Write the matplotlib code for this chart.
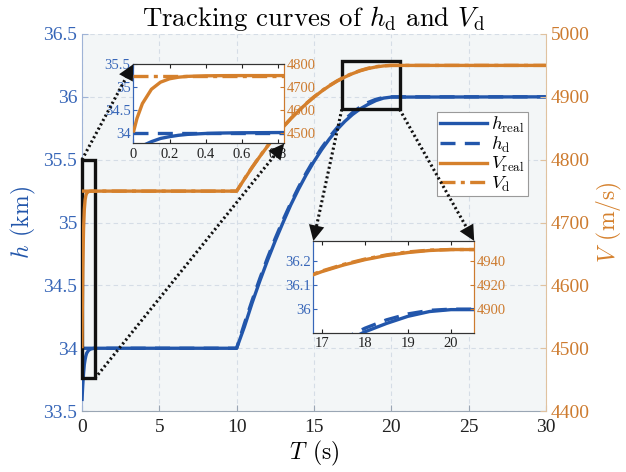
import matplotlib
matplotlib.use("Agg")
import matplotlib.pyplot as plt
from matplotlib.patches import Rectangle, ConnectionPatch
from matplotlib.lines import Line2D

# ---- simulated tracking data ----
t_real = [0, 0.02, 0.05, 0.1, 0.15, 0.2, 0.25, 0.3, 0.4, 0.5, 0.6, 0.8, 1.0,
          10, 10.5, 11, 11.5, 12, 12.5, 13, 13.5, 14, 14.5, 15, 15.5, 16,
          16.5, 17, 17.5, 18, 18.5, 19, 19.5, 20, 30]
h_real = [33.58, 33.64, 33.71, 33.80, 33.87, 33.91, 33.94, 33.96, 33.98, 33.99, 33.995, 34.0, 34.0,
          34.0, 34.17, 34.36, 34.535, 34.70, 34.855, 35.0, 35.14, 35.265, 35.38, 35.485, 35.58, 35.665,
          35.74, 35.805, 35.86, 35.905, 35.94, 35.97, 35.99, 35.998, 36.0]
v_real = [4500, 4562, 4627, 4690, 4721, 4736, 4743, 4746.5, 4749, 4749.8, 4750, 4750, 4750,
          4750, 4769, 4787.5, 4805, 4821.5, 4837, 4851.5, 4865, 4877.5, 4889, 4899.5, 4909, 4917.5,
          4925, 4931.5, 4937, 4941.5, 4945, 4947.5, 4949.2, 4950, 4950]

t_ref = [0, 10, 10.5, 11, 11.5, 12, 12.5, 13, 13.5, 14, 14.5, 15, 15.5, 16,
         16.5, 17, 17.5, 18, 18.5, 19, 19.5, 20, 30]
h_ref = [34.0, 34.0, 34.195, 34.38, 34.555, 34.72, 34.875, 35.02, 35.155, 35.28, 35.395, 35.5, 35.595, 35.68,
         35.755, 35.82, 35.875, 35.92, 35.955, 35.98, 35.995, 36.0, 36.0]
v_ref = [4750, 4750, 4769.5, 4788, 4805.5, 4822, 4837.5, 4852, 4865.5, 4878, 4889.5, 4900, 4909.5, 4918,
         4925.5, 4932, 4937.5, 4942, 4945.5, 4948, 4949.5, 4950, 4950]

x_ticks = [0, 5, 10, 15, 20, 25, 30]
h_ticks = [33.5, 34, 34.5, 35, 35.5, 36, 36.5]
v_ticks = [4400, 4500, 4600, 4700, 4800, 4900, 5000]

# ---- styling ----
BLUE = "#2256ab"
ORANGE = "#d5802c"
BLUE_TXT = "#3766b8"
ORANGE_TXT = "#cd7b2f"
BG = "#f3f6f7"
GRID = "#d5dde6"

plt.rcParams["font.family"] = ["Liberation Serif", "DejaVu Serif"]
plt.rcParams["mathtext.fontset"] = "cm"

LW = 2.4
DASH = (0, (4.5, 2.8))
DASHDOT = (0, (4.5, 1.6, 1.2, 1.6))

fig = plt.figure(figsize=(6.26, 4.72), dpi=100)
ax = fig.add_axes([0.131, 0.129, 0.741, 0.799])
ax.set_facecolor(BG)
axr = ax.twinx()


def h_to_v(h):
    return 4500 + (h - 34) * 200


def draw_series(a_h, a_v):
    a_h.plot(t_real, h_real, color=BLUE, lw=LW, solid_capstyle="butt", zorder=3)
    a_h.plot(t_ref, h_ref, color=BLUE, lw=LW, linestyle=DASH, zorder=4)
    a_v.plot(t_real, v_real, color=ORANGE, lw=LW, solid_capstyle="butt", zorder=3)
    a_v.plot(t_ref, v_ref, color=ORANGE, lw=LW, linestyle=DASHDOT, zorder=4)


draw_series(ax, axr)

ax.set_xlim(0, 30)
ax.set_ylim(33.5, 36.5)
axr.set_ylim(h_to_v(33.5), h_to_v(36.5))
ax.set_xticks(x_ticks)
ax.set_yticks(h_ticks)
ax.set_yticklabels([f"{v:g}" for v in h_ticks])
axr.set_yticks(v_ticks)
ax.grid(True, linestyle=(0, (4, 3)), color=GRID, lw=0.8)
ax.set_axisbelow(True)

ax.tick_params(axis="x", direction="in", length=4, labelsize=14, colors="#222222", pad=6,
               color="#9aa6b4")
ax.tick_params(axis="y", direction="in", length=4, labelsize=14, colors=BLUE_TXT,
               color="#9fb3d6")
axr.tick_params(axis="y", direction="in", length=4, labelsize=14, colors=ORANGE_TXT,
                color="#e0c29f")

for a in (ax, axr):
    a.spines["top"].set_visible(False)
ax.spines["left"].set_color("#9fb3d6")
ax.spines["bottom"].set_color("#9aa6b4")
ax.spines["right"].set_visible(False)
axr.spines["left"].set_visible(False)
axr.spines["bottom"].set_visible(False)
axr.spines["right"].set_color("#e0c29f")

ax.set_xlabel(r"$T\;\,\mathrm{(s)}$", fontsize=17, labelpad=2)
ax.set_ylabel(r"$h\;\,\mathrm{(km)}$", fontsize=17, color=BLUE, labelpad=4)
axr.set_ylabel(r"$V\;\,\mathrm{(m/s)}$", fontsize=17, color=ORANGE, labelpad=4)
ax.set_title(r"Tracking curves of $h_\mathrm{d}$ and $V_\mathrm{d}$",
             fontsize=19.3, family="cmr10", pad=6)

# legend with handles from both y axes
handles = [
    Line2D([], [], color=BLUE, lw=LW),
    Line2D([], [], color=BLUE, lw=LW, linestyle=DASH),
    Line2D([], [], color=ORANGE, lw=LW),
    Line2D([], [], color=ORANGE, lw=LW, linestyle=DASHDOT),
]
labels = [r"$h_\mathrm{real}$", r"$h_\mathrm{d}$", r"$V_\mathrm{real}$", r"$V_\mathrm{d}$"]
leg = axr.legend(handles, labels, loc="upper right", bbox_to_anchor=(0.961, 0.793),
                 borderaxespad=0, fontsize=13.5, handlelength=2.5, handletextpad=0.25,
                 labelspacing=0.0, borderpad=0.15, fancybox=False, framealpha=1,
                 edgecolor="#9a9a9a")
leg.get_frame().set_linewidth(0.8)
leg.set_zorder(10)


def make_inset(rect, xlim, hlim, xt, ht, vt):
    ia = fig.add_axes(rect)
    ia.set_facecolor("white")
    iar = ia.twinx()
    draw_series(ia, iar)
    ia.set_xlim(*xlim)
    ia.set_ylim(*hlim)
    iar.set_ylim(h_to_v(hlim[0]), h_to_v(hlim[1]))
    ia.set_xticks(xt)
    ia.set_xticklabels([f"{v:g}" for v in xt])
    ia.set_yticks(ht)
    ia.set_yticklabels([f"{v:g}" for v in ht])
    iar.set_yticks(vt)
    ia.tick_params(axis="x", direction="in", length=3, labelsize=10.5, colors="#222222",
                   top=True, pad=3)
    ia.tick_params(axis="y", direction="in", length=3, labelsize=10.5, colors=BLUE_TXT, pad=2)
    iar.tick_params(axis="y", direction="in", length=3, labelsize=10.5, colors=ORANGE_TXT, pad=2)
    for a in (ia, iar):
        a.spines["top"].set_color("#333333")
        a.spines["bottom"].set_color("#333333")
        a.spines["left"].set_color(BLUE_TXT)
        a.spines["right"].set_color(ORANGE_TXT)
    return ia, iar


# inset around the initial transient
in1_x, in1_h = (0, 0.834), (33.76, 35.5)
ia1, iar1 = make_inset([0.213, 0.696, 0.241, 0.168], in1_x, in1_h,
                       [0, 0.2, 0.4, 0.6, 0.8], [34, 34.5, 35, 35.5],
                       [4500, 4600, 4700, 4800])

# inset around the end of the climb
in2_x, in2_h = (16.8, 20.54), (35.90, 36.286)
ia2, iar2 = make_inset([0.5005, 0.2945, 0.257, 0.195], in2_x, in2_h,
                       [17, 18, 19, 20], [36, 36.1, 36.2],
                       [4900, 4920, 4940])

# zoom boxes on the main axes
for xl, hl in ((in1_x, in1_h), (in2_x, in2_h)):
    ax.add_patch(Rectangle((xl[0], hl[0]), xl[1] - xl[0], hl[1] - hl[0],
                           fill=False, ec="#111111", lw=2.4, zorder=6, clip_on=False))

# dotted connectors ending in arrow heads at the inset corners
links = [
    ((in1_x[0], in1_h[1]), ia1, (0, 1)),
    ((in1_x[1], in1_h[0]), ia1, (1, 0)),
    ((in2_x[0], in2_h[0]), ia2, (0, 1)),
    ((in2_x[1], in2_h[0]), ia2, (1, 1)),
]
for xyA, target, xyB in links:
    # dotted shaft
    shaft = ConnectionPatch(xyA=xyA, coordsA=ax.transData, xyB=xyB, coordsB=target.transAxes,
                            arrowstyle="-", lw=2.2, linestyle=(0, (0.7, 0.9)),
                            capstyle="butt", color="#111111", shrinkA=0, shrinkB=6, zorder=20)
    fig.add_artist(shaft)
    # solid arrow head
    head = ConnectionPatch(xyA=xyA, coordsA=ax.transData, xyB=xyB, coordsB=target.transAxes,
                           arrowstyle="-|>,head_length=0.7,head_width=0.35", mutation_scale=16,
                           color="#111111", shrinkA=0, shrinkB=0, zorder=21)
    head.set_linewidth(0)
    fig.add_artist(head)

fig.savefig("out.png", dpi=100, facecolor="white")
